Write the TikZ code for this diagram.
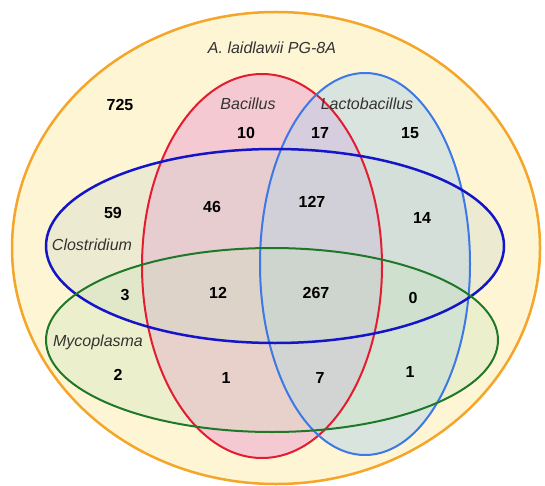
\documentclass[tikz,border=0pt]{standalone}
\usepackage{fontspec}
\setmainfont{Liberation Sans}
\usetikzlibrary{shapes}
\definecolor{orangeline}{RGB}{245,165,40}
\definecolor{creamfill}{RGB}{253,245,212}
\definecolor{redline}{RGB}{228,28,48}
\definecolor{redfill}{RGB}{240,165,210}
\definecolor{lactoline}{RGB}{60,120,230}
\definecolor{lactofill}{RGB}{185,212,235}
\definecolor{clostline}{RGB}{20,20,200}
\definecolor{clostfill}{RGB}{200,212,205}
\definecolor{mycoline}{RGB}{30,120,40}
\definecolor{mycofill}{RGB}{200,228,185}
\tikzstyle{elli} = [ellipse, inner sep=0pt, line width=2pt]
\tikzstyle{countlabel} = [font=\fontsize{16}{18}\selectfont\bfseries, text=black]
\tikzstyle{setlabel} = [font=\fontsize{16}{18}\selectfont\itshape, text=black!80]
\tikzstyle{bacsize} = [minimum width=240pt, minimum height=384pt]
\tikzstyle{lacsize} = [minimum width=210pt, minimum height=382pt]
\tikzstyle{closize} = [minimum width=458pt, minimum height=194pt]
\tikzstyle{mycsize} = [minimum width=452pt, minimum height=184pt]
\begin{document}
\begin{tikzpicture}[x=1pt, y=-1pt]
    \useasboundingbox [fill=white] (0,0) rectangle (545,486);
    \node [elli, draw=orangeline, fill=creamfill, line width=2.5pt, minimum width=528pt, minimum height=472pt] (set0) at (276,248) {};
    % fills
    \node [elli, bacsize, fill=redfill, fill opacity=0.55] (set1) at (262,266) {};
    \node [elli, lacsize, fill=lactofill, fill opacity=0.5] (set2) at (365,264) {};
    \node [elli, closize, fill=clostfill, fill opacity=0.3] (set3) at (275,246) {};
    \node [elli, mycsize, fill=mycofill, fill opacity=0.3] (set4) at (272,340) {};
    % borders
    \node [elli, bacsize, draw=redline] (rim1) at (set1.center) {};
    \node [elli, lacsize, draw=lactoline] (rim2) at (set2.center) {};
    \node [elli, closize, draw=clostline, line width=2.5pt] (rim3) at (set3.center) {};
    \node [elli, mycsize, draw=mycoline] (rim4) at (set4.center) {};
    % set names
    \node [setlabel] (lab0) at (272,48) {A. laidlawii PG-8A};
    \node [setlabel] (lab1) at (248,104) {Bacillus};
    \node [setlabel] (lab2) at (367,104) {Lactobacillus};
    \node [setlabel] (lab3) at (92,245) {Clostridium};
    \node [setlabel] (lab4) at (98,342) {Mycoplasma};
    % counts
    \node [countlabel] (n725) at (120,105) {725};
    \node [countlabel] (n10) at (246,133) {10};
    \node [countlabel] (n17) at (320,133) {17};
    \node [countlabel] (n15) at (410,133) {15};
    \node [countlabel] (n59) at (113,213) {59};
    \node [countlabel] (n46) at (212,207) {46};
    \node [countlabel] (n127) at (312,202) {127};
    \node [countlabel] (n14) at (422,218) {14};
    \node [countlabel] (n3) at (125,295) {3};
    \node [countlabel] (n12) at (218,293) {12};
    \node [countlabel] (n267) at (316,293) {267};
    \node [countlabel] (n0) at (413,298) {0};
    \node [countlabel] (n2) at (118,375) {2};
    \node [countlabel] (n1a) at (226,378) {1};
    \node [countlabel] (n7) at (320,378) {7};
    \node [countlabel] (n1b) at (410,372) {1};
\end{tikzpicture}
\end{document}
